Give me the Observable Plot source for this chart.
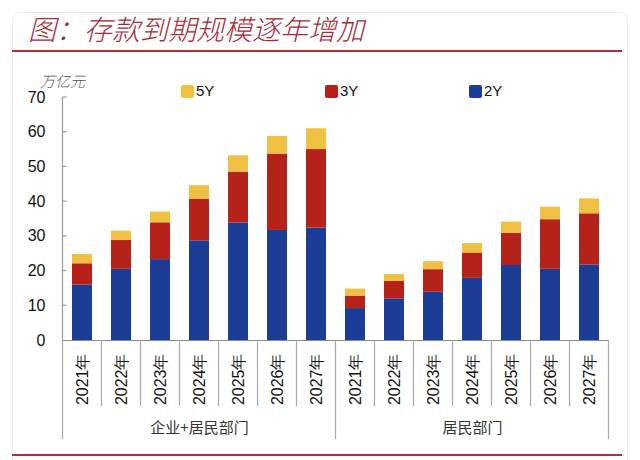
<!DOCTYPE html>
<html>
<head>
<meta charset="utf-8">
<script src="https://cdn.jsdelivr.net/npm/d3@7"></script>
<script src="https://cdn.jsdelivr.net/npm/@observablehq/plot@0.6"></script>
<style>
  html, body { margin: 0; padding: 0; background: #fff; }
  #wrap { position: relative; width: 640px; height: 460px; overflow: hidden; background: #fff; }
  #frame { position: absolute; left: 12px; top: 12px; width: 616px; height: 460px; border: 1px solid #ececec; border-radius: 8px; box-sizing: border-box; }
  #title { position: absolute; left: 28px; top: 14px; font-family: "Noto Sans CJK SC", sans-serif; font-size: 28px; line-height: 28px; font-style: italic; font-weight: 300; color: #a82a38; white-space: nowrap; }
  .redline { position: absolute; left: 12px; width: 610px; height: 2px; background: #ad3038; }
  #unit { position: absolute; left: 40px; top: 72px; font-family: "Noto Sans CJK SC", sans-serif; font-size: 15px; font-style: italic; font-weight: 300; color: #555; line-height: 18px; }
  .leg { position: absolute; top: 83px; font-family: "Liberation Sans", Arial, sans-serif; font-size: 15px; color: #111; line-height: 16px; display: flex; align-items: center; }
  .leg span.sw { display: inline-block; width: 13px; height: 13px; border-radius: 2px; margin-right: 2px; }
  #chart { position: absolute; left: 0; top: 60px; }
</style>
</head>
<body>
<div id="wrap">
  <div id="frame"></div>
  <div id="title">图：存款到期规模逐年增加</div>
  <div class="redline" style="top:50px"></div>
  <div class="redline" style="top:454px"></div>
  <div id="unit">万亿元</div>
  <div id="legend"></div>
  <div id="chart"></div>
</div>
<script>
// ---- data ----
const years = ["2021年", "2022年", "2023年", "2024年", "2025年", "2026年", "2027年"];
const groups = ["企业+居民部门", "居民部门"];
const terms = ["2Y", "3Y", "5Y"];
const termColors = ["#1b3d95", "#b52219", "#f0c043"];
const legendOrder = ["5Y", "3Y", "2Y"];
const yTicks = [0, 10, 20, 30, 40, 50, 60, 70];

// 企业+居民部门
const corp2Y = [16.0, 20.5, 23.3, 28.7, 33.8, 31.7, 32.4];
const corp3Y = [6.1, 8.3, 10.6, 12.0, 14.7, 22.0, 22.6];
const corp5Y = [2.7, 2.7, 3.1, 3.9, 4.7, 5.1, 6.0];
// 居民部门
const hh2Y = [9.2, 12.0, 13.9, 17.9, 21.6, 20.5, 21.7];
const hh3Y = [3.6, 5.0, 6.5, 7.3, 9.3, 14.3, 14.8];
const hh5Y = [2.0, 2.0, 2.3, 2.7, 3.2, 3.6, 4.3];

const series = [
  {group: groups[0], values: {"2Y": corp2Y, "3Y": corp3Y, "5Y": corp5Y}},
  {group: groups[1], values: {"2Y": hh2Y, "3Y": hh3Y, "5Y": hh5Y}}
];

// ---- build table ----
const keyOf = (g, y) => g + "|" + y;
const keys = [];
const rows = [];
const yearLabels = [];
for (const s of series) {
  years.forEach((yr, i) => {
    const k = keyOf(s.group, yr);
    keys.push(k);
    yearLabels.push({key: k, label: yr});
    for (const t of terms) rows.push({key: k, group: s.group, year: yr, term: t, value: s.values[t][i]});
  });
}
const groupLabels = groups.map(g => ({key: keyOf(g, years[3]), label: g}));

// ---- legend ----
const legend = document.getElementById("legend");
const legLeft = [181, 325, 469];
legendOrder.forEach((t, i) => {
  const d = document.createElement("div");
  d.className = "leg";
  d.style.left = legLeft[i] + "px";
  d.innerHTML = `<span class="sw" style="background:${termColors[terms.indexOf(t)]}"></span>${t}`;
  legend.appendChild(d);
});

// ---- chart ----
const W = 640, H = 400, ML = 62, MR = 32, MT = 37, MB = 120;
const numFont = "'Liberation Sans', Arial, sans-serif";
const chart = Plot.plot({
  width: W, height: H,
  marginLeft: ML, marginRight: MR, marginTop: MT, marginBottom: MB,
  style: {fontFamily: numFont, fontSize: "16px", color: "#111", background: "transparent", overflow: "visible"},
  x: {domain: keys, paddingInner: 0.49, paddingOuter: 0.245, axis: null, label: null},
  y: {domain: [0, 70], axis: null, label: null},
  color: {domain: terms, range: termColors},
  marks: [
    Plot.barY(rows, {x: "key", y: "value", fill: "term", order: terms}),
    Plot.ruleY([0], {stroke: "#8a8a8a", strokeWidth: 1}),
    Plot.axisY({ticks: yTicks, tickSize: 0, tickPadding: 17, fontSize: 16, stroke: "none", fill: "#111", label: null}),
    Plot.text(yearLabels, {x: "key", y: () => 0, text: "label", rotate: -90, textAnchor: "end", lineAnchor: "middle", dy: 13, fontSize: 16, fill: "#111"}),
    Plot.text(groupLabels, {x: "key", y: () => 0, text: "label", dy: 88, fontSize: 15, fill: "#333", fontFamily: "'Noto Sans CJK SC', sans-serif"})
  ]
});
document.getElementById("chart").appendChild(chart);

// separators, axis line and inward y ticks, placed with Plot's own scales
const xs = chart.scale("x"), ys = chart.scale("y");
const svg = d3.select(chart);
const step = xs.step, bw = xs.bandwidth;
const y0 = ys.apply(0);
const bounds = keys.map(k => xs.apply(k) - (step - bw) / 2);
bounds.push(xs.apply(keys[keys.length - 1]) + bw + (step - bw) / 2);
const g = svg.append("g").attr("stroke", "#a8a8a8").attr("stroke-width", 1.2);
bounds.forEach((bx, i) => {
  const isGroup = i % years.length === 0;
  g.append("line").attr("x1", bx).attr("x2", bx).attr("y1", y0).attr("y2", y0 + (isGroup ? 99 : 66));
});
// y axis line
const yTop = ys.apply(70);
const ga = svg.append("g").attr("stroke", "#999").attr("stroke-width", 1.2);
ga.append("line").attr("x1", bounds[0]).attr("x2", bounds[0]).attr("y1", yTop).attr("y2", y0);
yTicks.forEach(t => {
  if (t === 0) return;
  ga.append("line").attr("x1", bounds[0]).attr("x2", bounds[0] + 4).attr("y1", ys.apply(t)).attr("y2", ys.apply(t));
});
</script>
</body>
</html>
